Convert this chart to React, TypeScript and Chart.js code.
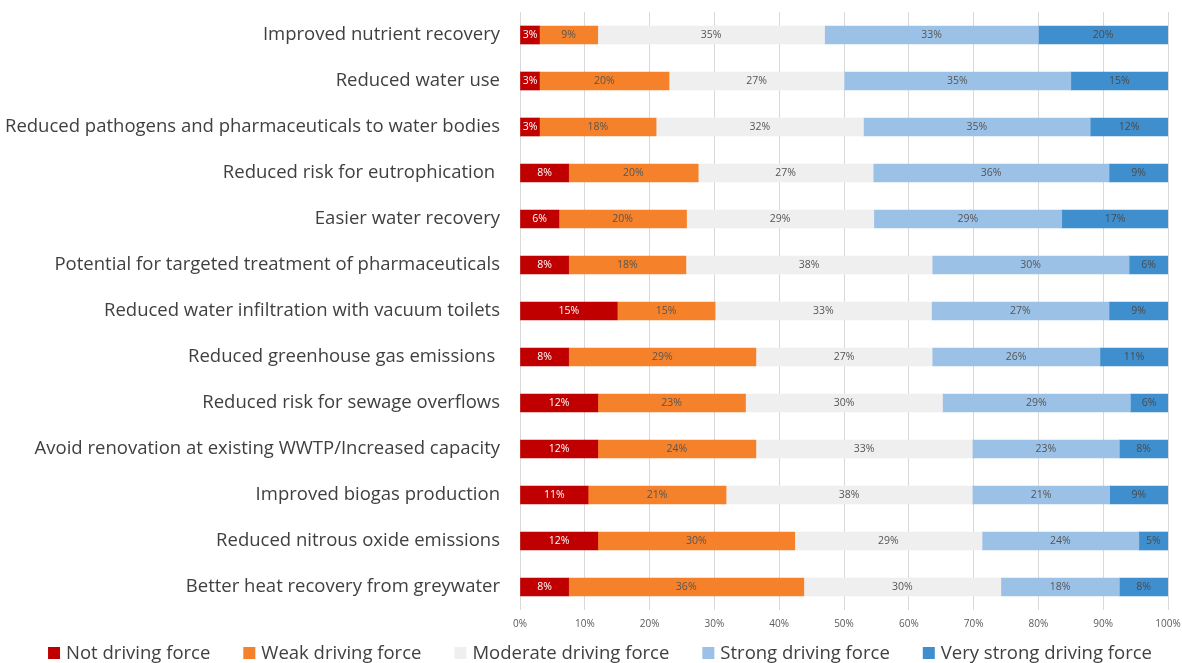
import React, { useEffect, useRef } from "react";
import { Chart, registerables } from "chart.js";

Chart.register(...registerables);

const categories = [
  "Improved nutrient recovery",
  "Reduced water use",
  "Reduced pathogens and pharmaceuticals to water bodies",
  "Reduced risk for eutrophication ",
  "Easier water recovery",
  "Potential for targeted treatment of pharmaceuticals",
  "Reduced water infiltration with vacuum toilets",
  "Reduced greenhouse gas emissions ",
  "Reduced risk for sewage overflows",
  "Avoid renovation at existing WWTP/Increased capacity",
  "Improved biogas production",
  "Reduced nitrous oxide emissions",
  "Better heat recovery from greywater",
];

const notDriving = [3, 3, 3, 7.5, 6, 7.5, 15, 7.5, 12, 12, 10.5, 12, 7.5];
const weakDriving = [9, 20, 18, 20, 19.7, 18.1, 15.1, 28.9, 22.8, 24.4, 21.3, 30.4, 36.3];
const moderateDriving = [35, 27, 32, 27, 28.9, 38, 33.4, 27.2, 30.4, 33.4, 38, 28.9, 30.4];
const strongDriving = [33, 35, 35, 36.4, 29, 30.4, 27.4, 25.9, 29, 22.7, 21.2, 24.2, 18.3];
const veryStrongDriving = [20, 15, 12, 9.1, 16.5, 6, 9.1, 10.5, 5.8, 7.5, 9, 4.5, 7.5];

const seriesNames = [
  "Not driving force",
  "Weak driving force",
  "Moderate driving force",
  "Strong driving force",
  "Very strong driving force",
];

const xTicks = [0, 10, 20, 30, 40, 50, 60, 70, 80, 90, 100];

const seriesColors = ["#C00000", "#F5822A", "#EFEFEF", "#9CC1E6", "#3F8FCF"];
const labelColors = ["#FFFFFF", "#555555", "#555555", "#555555", "#4A4A4A"];

const FONT = "'Open Sans', 'DejaVu Sans', sans-serif";

const barLabelPlugin = {
  id: "barLabels",
  afterDatasetsDraw(chart: any) {
    const ctx = chart.ctx;
    ctx.save();
    ctx.font = `10.5px ${FONT}`;
    ctx.textAlign = "center";
    ctx.textBaseline = "middle";
    chart.data.datasets.forEach((ds: any, di: number) => {
      const meta = chart.getDatasetMeta(di);
      meta.data.forEach((el: any, i: number) => {
        const v = ds.data[i];
        const cx = (el.x + el.base) / 2;
        ctx.fillStyle = labelColors[di];
        ctx.fillText(Math.round(v) + "%", cx, el.y);
      });
    });
    ctx.restore();
  },
};

const legendPlugin = {
  id: "customLegend",
  afterDraw(chart: any) {
    const ctx = chart.ctx;
    ctx.save();
    ctx.font = `18.5px ${FONT}`;
    ctx.textBaseline = "middle";
    ctx.textAlign = "left";
    const box = 12;
    const gapText = 6;
    const gapItem = 33;
    const widths = seriesNames.map((n) => box + gapText + ctx.measureText(n).width);
    const total = widths.reduce((a, b) => a + b, 0) + gapItem * (widths.length - 1);
    let x = 600 - total / 2;
    const y = 653;
    seriesNames.forEach((n, i) => {
      ctx.fillStyle = seriesColors[i];
      ctx.fillRect(x, y - box / 2, box, box);
      ctx.fillStyle = "#404040";
      ctx.fillText(n, x + box + gapText, y + 1);
      x += widths[i] + gapItem;
    });
    ctx.restore();
  },
};

export default function App() {
  const ref = useRef<HTMLCanvasElement>(null);

  useEffect(() => {
    if (!ref.current) return;
    const allSeries = [notDriving, weakDriving, moderateDriving, strongDriving, veryStrongDriving];
    const chart = new Chart(ref.current, {
      type: "bar",
      data: {
        labels: categories,
        datasets: allSeries.map((d, i) => ({
          label: seriesNames[i],
          data: d,
          backgroundColor: seriesColors[i],
          borderWidth: 0,
          barThickness: 18,
        })),
      },
      options: {
        indexAxis: "y",
        animation: false,
        responsive: false,
        maintainAspectRatio: false,
        layout: { padding: { top: 12, right: 14, left: 0, bottom: 25 } },
        scales: {
          x: {
            stacked: true,
            min: 0,
            max: 100,
            afterBuildTicks: (scale: any) => {
              scale.ticks = xTicks.map((v) => ({ value: v }));
            },
            afterFit: (scale: any) => {
              scale.paddingRight = 0;
              scale.paddingLeft = 0;
            },
            ticks: {
              callback: (v: any) => v + "%",
              font: { family: FONT, size: 10 },
              color: "#595959",
              padding: 8,
              maxRotation: 0,
            },
            grid: { color: "#D9D9D9", drawTicks: false, lineWidth: 1 },
            border: { display: false },
          },
          y: {
            stacked: true,
            afterFit: (scale: any) => {
              scale.width = 520;
            },
            ticks: {
              font: { family: FONT, size: 18.5 },
              color: "#404040",
              padding: 0,
              autoSkip: false,
            },
            grid: {
              display: true,
              drawOnChartArea: false,
              drawTicks: true,
              tickLength: 20,
              color: "rgba(0,0,0,0)",
            },
            border: { display: false },
          },
        },
        plugins: {
          legend: { display: false },
          tooltip: { enabled: false },
        },
      },
      plugins: [barLabelPlugin, legendPlugin],
    });
    return () => chart.destroy();
  }, []);

  return (
    <div style={{ position: "absolute", left: 0, top: 0, width: 1182, height: 663, background: "#fff" }}>
      <canvas ref={ref} width={1182} height={663} style={{ width: 1182, height: 663 }} />
    </div>
  );
}
